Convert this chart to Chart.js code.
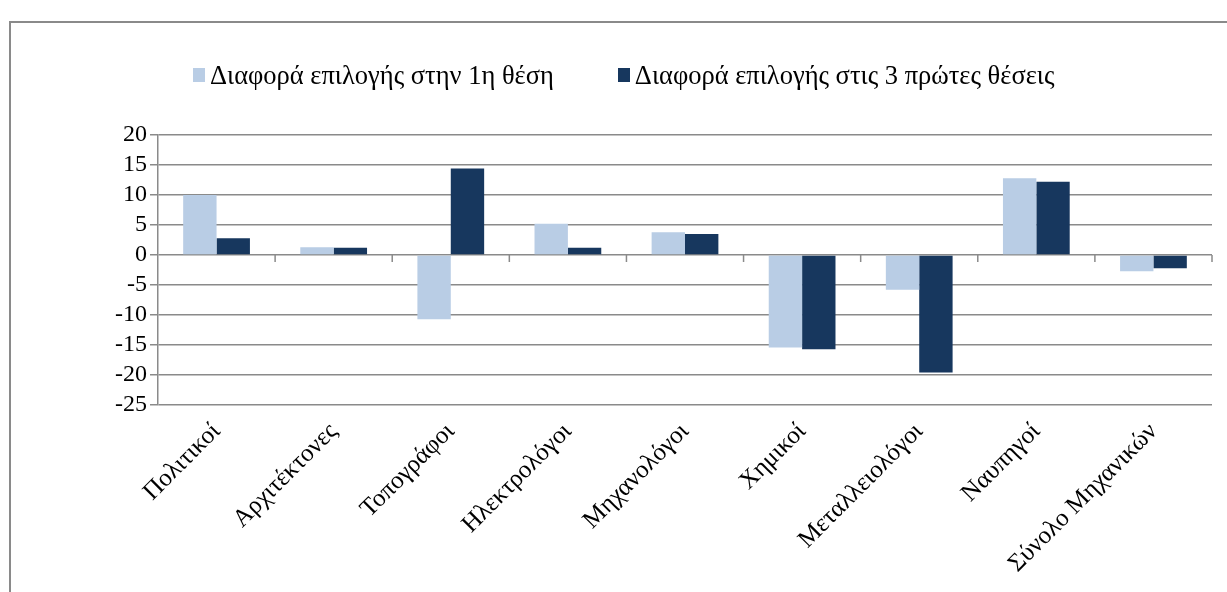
<!DOCTYPE html>
<html>
<head>
<meta charset="utf-8">
<script src="https://cdn.jsdelivr.net/npm/chart.js@4"></script>
<style>
    body { margin: 0; overflow: hidden; background: #fff; font-family: "Liberation Serif", serif; }
    #frame { position: absolute; left: 9px; top: 21px; width: 1300px; height: 700px; border-top: 2px solid #8a8a8a; border-left: 2px solid #8a8a8a; }
    #wrap { position: absolute; left: 0; top: 0; width: 1227px; height: 592px; }
    #legend { position: absolute; top: 57px; left: 193px; font-size: 26.5px; line-height: 32px; color: #000; white-space: nowrap; }
    #legend span.item { display: inline-flex; align-items: center; }
    #legend i { display: inline-block; width: 12px; height: 14px; margin-right: 5px; }
</style>
</head>
<body>
<div id="frame"></div>
<div id="wrap"><canvas id="chart"></canvas></div>
<div id="legend"></div>
<script>
const categories = ["Πολιτικοί", "Αρχιτέκτονες", "Τοπογράφοι", "Ηλεκτρολόγοι", "Μηχανολόγοι", "Χημικοί", "Μεταλλειολόγοι", "Ναυπηγοί", "Σύνολο Μηχανικών"];
const seriesNames = ["Διαφορά επιλογής στην 1η θέση", "Διαφορά επιλογής στις 3 πρώτες θέσεις"];
const firstChoice = [10.0, 1.3, -10.7, 5.2, 3.8, -15.4, -5.8, 12.8, -2.7];
const topThree = [2.8, 1.2, 14.4, 1.2, 3.5, -15.7, -19.6, 12.2, -2.2];
const colors = ["#B9CDE5", "#17375E"];

// legend as html
const legend = document.getElementById("legend");
seriesNames.forEach((name, i) => {
    const s = document.createElement("span");
    s.className = "item";
    if (i > 0) s.style.marginLeft = "64px";
    s.innerHTML = '<i style="background:' + colors[i] + '"></i>' + name;
    legend.appendChild(s);
});

// short tick marks under the zero line, between categories
const zeroTicks = {
    id: "zeroTicks",
    afterDatasetsDraw(chart) {
        const x = chart.scales.x, y = chart.scales.y;
        const y0 = y.getPixelForValue(0);
        const ctx = chart.ctx;
        ctx.save();
        ctx.strokeStyle = "#8a8a8a";
        ctx.lineWidth = 1.5;
        for (let i = 1; i <= categories.length; i++) {
            const px = i === categories.length ? x.right : (x.getPixelForValue(i - 1) + x.getPixelForValue(i)) / 2;
            ctx.beginPath();
            ctx.moveTo(px, y0);
            ctx.lineTo(px, y0 + 7);
            ctx.stroke();
        }
        ctx.restore();
    }
};

new Chart(document.getElementById("chart"), {
    type: "bar",
    data: {
        labels: categories,
        datasets: [
            { label: seriesNames[0], data: firstChoice, backgroundColor: colors[0] },
            { label: seriesNames[1], data: topThree, backgroundColor: colors[1] },
        ],
    },
    options: {
        responsive: true,
        maintainAspectRatio: false,
        animation: false,
        layout: { padding: { top: 135, right: 15, left: 0, bottom: 0 } },
        categoryPercentage: 0.57,
        barPercentage: 1.0,
        plugins: {
            legend: { display: false },
            tooltip: { enabled: false },
        },
        scales: {
            x: {
                grid: { display: false, drawTicks: false },
                border: { display: false },
                ticks: {
                    minRotation: 45,
                    maxRotation: 45,
                    padding: 12,
                    color: "#000",
                    font: { family: "Liberation Serif", size: 25 },
                },
                afterFit(scale) { scale.height = 187; },
            },
            y: {
                min: -25,
                max: 20,
                ticks: {
                    stepSize: 5,
                    autoSkip: false,
                    color: "#000",
                    padding: 3,
                    font: { family: "Liberation Serif", size: 24 },
                },
                grid: { color: "#8a8a8a", lineWidth: 1.5, tickLength: 8 },
                border: { color: "#8a8a8a", width: 1.5 },
                afterFit(scale) { scale.width = 158; },
            },
        },
    },
    plugins: [zeroTicks],
});
</script>
</body>
</html>
